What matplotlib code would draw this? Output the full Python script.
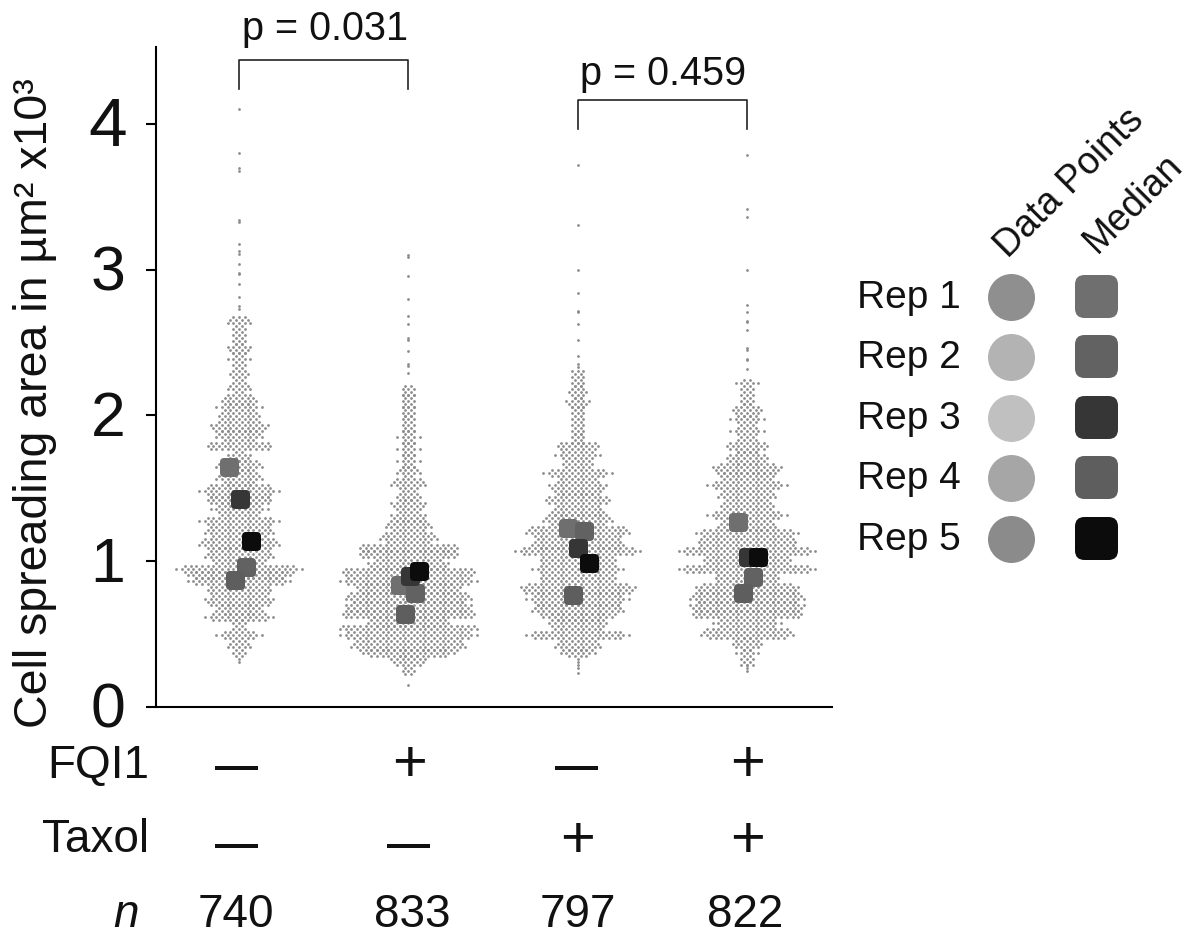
import matplotlib
matplotlib.use("Agg")
import matplotlib.pyplot as plt
from matplotlib.patches import FancyBboxPatch

plt.rcParams['font.family'] = ['Liberation Sans', 'DejaVu Sans']

W, H = 1195, 936
AX_L, AX_R, AX_T, AX_B = 156, 832, 47, 707

group_labels = ['1', '2', '3', '4']
fqi1 = ['—', '+', '—', '+']
taxol = ['—', '—', '+', '+']
n_values = ['740', '833', '797', '822']
y_ticks = [0, 1, 2, 3, 4]

# Swarm outline of each group: band start value and half-width of the band, in dots
g1_band = [.30, .34, .39, .47, .53, .60, .64, .71, .78, .84, .89, .93, .985, 1.10, 1.17, 1.25, 1.31, 1.40, 1.45,
           1.53, 1.63, 1.69, 1.77, 1.83, 1.90, 1.97, 2.03, 2.08, 2.16, 2.24, 2.34, 2.43, 2.50, 2.61, 2.68]
g1_half = [0, 2, 3, 4, 2, 6, 5, 7, 6, 9, 9, 11, 7, 8, 7, 7, 5, 6, 7, 5, 5, 3, 6, 5, 6, 4, 4, 4, 3, 2, 2, 3, 2, 3]
g1_tail = [2.73, 2.75, 2.81, 2.90, 2.97, 2.98, 3.04, 3.11, 3.13, 3.18, 3.33, 3.34, 3.68, 3.70, 3.80, 4.10]

g2_band = [.22, .28, .35, .40, .47, .53, .56, .62, .66, .73, .79, .85, .90, .95, 1.02, 1.08, 1.13, 1.21, 1.28, 1.35,
           1.43, 1.50, 1.58, 1.65, 1.73, 1.82, 1.90, 2.00, 2.06, 2.15, 2.22]
g2_half = [1, 4, 8, 11, 12, 13, 8, 12, 12, 12, 10, 12, 12, 8, 9, 9, 6, 5, 4, 4, 3, 4, 3, 2, 2, 2, 2, 2, 1, 2]
g2_tail = [.15, 2.29, 2.34, 2.35, 2.44, 2.52, 2.53, 2.63, 2.68, 2.80, 2.96, 3.09, 3.10]

g3_band = [.27, .34, .40, .47, .53, .60, .64, .71, .79, .86, .92, .985, 1.04, 1.10, 1.17, 1.25, 1.32, 1.37, 1.47,
           1.58, 1.64, 1.70, 1.77, 1.82, 1.88, 1.91, 1.99, 2.06, 2.13, 2.21, 2.32]
g3_half = [0, 3, 5, 9, 6, 6, 9, 9, 11, 7, 8, 7, 11, 9, 10, 7, 5, 6, 6, 6, 3, 4, 4, 2, 1, 2, 1, 3, 2, 2]
g3_tail = [.23, 2.33, 2.35, 2.41, 2.52, 2.63, 2.71, 2.72, 2.84, 3.00, 3.31, 3.72]

g4_band = [.24, .29, .34, .40, .48, .55, .61, .66, .73, .79, .86, .92, .985, 1.04, 1.11, 1.17, 1.22, 1.29, 1.35,
           1.42, 1.50, 1.56, 1.61, 1.67, 1.75, 1.85, 1.95, 2.00, 2.08, 2.20, 2.25]
g4_half = [0, 1, 2, 3, 9, 6, 10, 11, 11, 10, 6, 12, 8, 12, 9, 9, 6, 7, 5, 6, 7, 5, 7, 4, 4, 3, 3, 3, 2, 2]
g4_tail = [2.32, 2.38, 2.39, 2.45, 2.46, 2.59, 2.64, 2.65, 2.71, 2.76, 3.00, 3.36, 3.42, 3.79]

bands = [g1_band, g2_band, g3_band, g4_band]
halves = [g1_half, g2_half, g3_half, g4_half]
tails = [g1_tail, g2_tail, g3_tail, g4_tail]

# Replicate medians in each group, listed Rep 1 to Rep 5
medians = [[1.65, .96, 1.43, .87, 1.14],
           [.84, .78, .90, .64, .93],
           [1.23, 1.21, 1.09, .77, .99],
           [1.27, .89, 1.03, .78, 1.03]]
median_dx = [[-10, 7, 1, -4, 12],
             [-8, 7, 2, -3, 11],
             [-10, 6, 0, -5, 11],
             [-9, 6, 1, -4, 11]]

rep_labels = ['Rep 1', 'Rep 2', 'Rep 3', 'Rep 4', 'Rep 5']
point_colors = ['#8f8f8f', '#b3b3b3', '#c0c0c0', '#a6a6a6', '#8b8b8b']
median_colors = ['#6f6f6f', '#626262', '#363636', '#5e5e5e', '#0c0c0c']

p_labels = ['p = 0.031', 'p = 0.459']

fig = plt.figure(figsize=(W / 100, H / 100), dpi=100)
ax = fig.add_axes([AX_L / W, 1 - AX_B / H, (AX_R - AX_L) / W, (AX_B - AX_T) / H])
PX_X = 169.3
PX_Y = 145.75
ax.set_xlim(1 - (239 - AX_L) / PX_X, 4 + (AX_R - 747) / PX_X)
ax.set_ylim(0, (AX_B - AX_T) / PX_Y)

box = FancyBboxPatch((-.5, -.5), 1, 1, boxstyle='round,pad=0,rounding_size=0.22')
rounded_square = box.get_path()

pitch = 5.7 / PX_X
row_step = 3.0 / PX_Y
dot_x, dot_y = [], []
for g, (edges, half, tail) in enumerate(zip(bands, halves, tails), start=1):
    for i, h in enumerate(half):
        rows = []
        j = round(edges[i] / row_step)
        while j * row_step < edges[i + 1]:
            rows.append(j)
            j += 1
        mid = (len(rows) - 1) / 2
        for idx, j in enumerate(rows):
            hw = int(max(h - 1 * abs(idx - mid), min(h, 1)))
            if j % 2 == 0:
                offs = [k * pitch for k in range(-hw, hw + 1)]
            else:
                offs = [(k + .5) * pitch for k in range(-hw, hw)] or [0]
            dot_x += [g + o for o in offs]
            dot_y += [j * row_step] * len(offs)
    dot_x += [g] * len(tail)
    dot_y += tail
ax.scatter(dot_x, dot_y, s=4.0, c='#8c8c8c', linewidths=0, zorder=2)

for g, (meds, dxs) in enumerate(zip(medians, median_dx), start=1):
    for m, dx, c in zip(meds, dxs, median_colors):
        ax.scatter(g + dx / PX_X, m, s=(19 * .72) ** 2, marker=rounded_square, c=c, linewidths=0, zorder=3)

for s in ('top', 'right'):
    ax.spines[s].set_visible(False)
for s in ('left', 'bottom'):
    ax.spines[s].set_linewidth(1.5)
ax.set_xticks([])
ax.set_yticks(y_ticks)
ax.set_yticklabels([])
ax.tick_params(axis='y', length=7, width=1.5)

# Comparison brackets
for (a, b, top, drop, lab, ty) in [(1, 2, 4.44, .20, p_labels[0], 4.65), (3, 4, 4.165, .20, p_labels[1], 4.34)]:
    ax.plot([a, a, b, b], [top - drop, top, top, top - drop], color='#222222', lw=1.2, clip_on=False, zorder=4)
    ax.text((a + b) / 2 + .006, ty, lab, ha='center', va='center', fontsize=28.5, clip_on=False, color='#111111')

# Overlay in picture pixels for the table and legend
ov = fig.add_axes([0, 0, 1, 1])
ov.set_xlim(0, W)
ov.set_ylim(H, 0)
ov.axis('off')
ov.patch.set_alpha(0)

for t in y_ticks:
    ov.text(108, AX_B - t * PX_Y + 4, str(t), ha='center', va='center', fontsize=50 if t == 4 else 45, color='#111111')

ov.text(35, 403, 'Cell spreading area in µm² x10³', rotation=90, ha='center', va='center', fontsize=33.5, color='#111111')
ov.text(149, 766, 'FQI1', ha='right', va='center', fontsize=33, color='#111111')
ov.text(149, 840, 'Taxol', ha='right', va='center', fontsize=33, color='#111111')
ov.text(139, 915, 'n', ha='right', va='center', fontsize=33, style='italic', color='#111111')
sign_x = [238, 410, 578, 748]
n_x = [236, 412, 578, 745]
for cx, nx, f, t, nv in zip(sign_x, n_x, fqi1, taxol, n_values):
    for sign, y_dash, y_plus in [(f, 768, 766), (t, 846, 842)]:
        if sign == '+':
            ov.text(cx, y_plus, sign, ha='center', va='center', fontsize=43, color='#111111')
        else:
            ov.text(cx - 1, y_dash, sign, ha='center', va='center', fontsize=31, weight='bold', color='#111111')
    ov.text(nx, 915, nv, ha='center', va='center', fontsize=33, color='#111111')

rep_y = [296, 356, 417, 477, 538]
for y, lab, pc, mc in zip(rep_y, rep_labels, point_colors, median_colors):
    ov.text(857, y + 2, lab, ha='left', va='center', fontsize=28, color='#111111')
    ov.scatter(1011, y + 1, s=(47 * .72) ** 2, c=pc, marker='o', linewidths=0)
    ov.scatter(1096, y, s=(43 * .72) ** 2, c=mc, marker=rounded_square, linewidths=0)
ov.text(1070, 183, 'Data Points', rotation=45, ha='center', va='center', rotation_mode='anchor', fontsize=27, color='#111111')
ov.text(1133, 203, 'Median', rotation=45, ha='center', va='center', rotation_mode='anchor', fontsize=27, color='#111111')

fig.savefig('out.png', dpi=100)
